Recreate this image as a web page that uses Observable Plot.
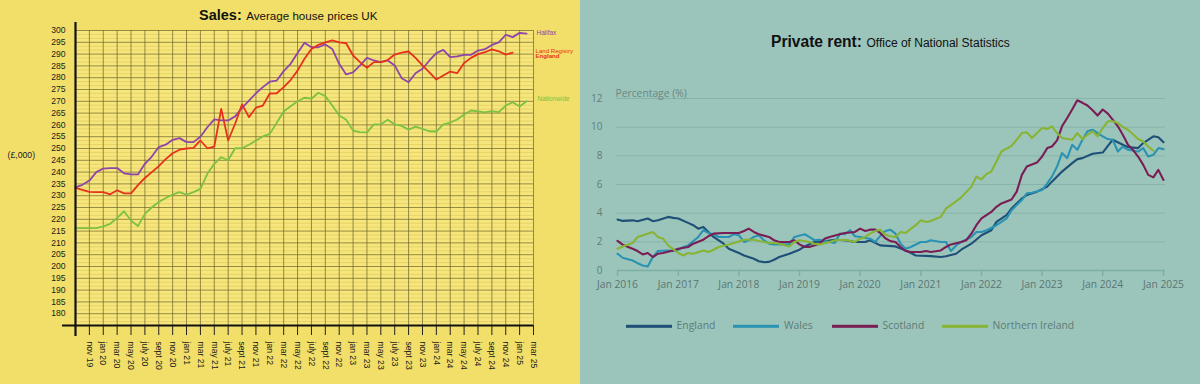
<!DOCTYPE html>
<html><head><meta charset="utf-8">
<script src="https://cdn.jsdelivr.net/npm/d3@7"></script>
<script src="https://cdn.jsdelivr.net/npm/@observablehq/plot@0.6"></script>
<style>
body{margin:0;width:1200px;height:384px;overflow:hidden;font-family:"Liberation Sans",Arial,sans-serif}
#wrap{display:flex;width:1200px;height:384px}
.panel{position:relative;height:384px;overflow:hidden}
#left{width:580px;background:#f2df69}
#right{width:620px;background:#9bc5bb}
.panel svg{position:absolute;left:0;top:0}
.t{position:absolute;white-space:nowrap;line-height:1;transform:translateY(-50%)}
.sw{display:inline-block;width:46px;height:3px;vertical-align:middle;margin-right:5px}
</style></head><body>
<div id="wrap"><div id="left" class="panel"></div><div id="right" class="panel"></div></div>
<script>
// ---------- LEFT: Sales, average house prices UK (£,000), monthly from Sep 2019 ----------
const salesTickLabels = ["nov 19","jan 20","mar 20","may 20","july 20","sept 20","nov 20","jan 21","mar 21","may 21","july 21","sept 21","nov 21","jan 22","mar 22","may 22","july 22","sept 22","nov 22","jan 23","mar 23","may 23","july 23","sept 23","nov 23","jan 24","mar 24","may 24","july 24","sept 24","nov 24","jan 25","mar 25"];
const salesYTicks = [180,185,190,195,200,205,210,215,220,225,230,235,240,245,250,255,260,265,270,275,280,285,290,295,300];
const salesSeries = ["Halifax","Land Registry","Nationwide"];
const halifax = [233.5,234.6,236.4,240,241.5,241.7,241.7,239.5,239,239,
  243.5,246.6,250.6,251.6,253.7,254.4,252.7,252.7,255,259,
  262.3,261.9,261.9,263.6,267.2,270.3,273.4,276,278.3,278.8,
  282.8,285.9,290.5,294.8,292.9,292.9,294.1,292.2,285.9,281.4,
  282.3,285.2,288.4,287.3,286.6,287.3,285.2,279.8,278.1,281.9,
  283.8,287.3,290.4,291.8,288.7,289,289.7,289.7,291.5,292.1,
  293.9,295,298.2,297.2,299,298.7];
const landRegistry = [233.3,232.5,231.6,231.5,231.5,230.6,232.3,231,231,234.5,
  237.5,240,242.5,245.5,248,249.5,250,250.3,253.4,250.1,
  250.8,266.8,253.4,260.5,268.7,263.3,267.3,268.2,273.3,273.4,
  276,279,283,288,292.2,293.9,295,295.8,295,294.6,
  289.4,286.6,284.2,286.6,286.6,287.5,289.8,290.6,291.1,288.4,
  285.2,282.3,279.2,280.9,282.6,281.9,286.2,288.4,290,290.8,
  292,291.2,289.8,290.6];
const nationwide = [216.3,216.3,216.3,216.3,217,218.1,220.6,223.4,219.5,217.1,
  222.3,225.1,227.3,229,230.5,231.5,230.4,231.5,232.9,239.3,
  243.5,246.3,245,250.1,250.1,251.6,253.4,255.1,256.2,260.9,
  265.7,267.9,270,271.5,271.1,273.6,272.2,268.2,264,262.2,
  257.6,256.9,256.8,260.2,260.3,262.2,260.2,259.6,258,259.3,
  258.3,257.3,257.2,260.2,261,262.3,264.4,266.1,265.7,265.3,
  265.8,265.4,268.2,269.6,267.8,270];
const salesColors = ["#8e45a9","#e6321b","#7cc142"];

// ---------- RIGHT: Private rent, annual % change ----------
const rentYears = [2016,2017,2018,2019,2020,2021,2022,2023,2024,2025];
const rentYTicks = [0,2,4,6,8,10,12];
const rentSeries = ["England","Wales","Scotland","Northern Ireland"];
const rentColors = ["#1f4e77","#2a93b3","#7a1d55","#88b433"];
const england = [["2016-01",3.56],["2016-02",3.46],["2016-04",3.5],["2016-05",3.44],["2016-07",3.63],["2016-08",3.44],["2016-09",3.5],["2016-11",3.74],["2016-12",3.67],["2017-01",3.63],["2017-03",3.32],["2017-04",3.16],["2017-05",2.92],["2017-06",3.04],["2017-07",2.69],["2017-08",2.34],["2017-10",1.87],["2017-11",1.52],["2018-01",1.22],["2018-02",1.05],["2018-04",0.82],["2018-05",0.65],["2018-06",0.58],["2018-07",0.6],["2018-08",0.75],["2018-09",0.94],["2018-11",1.17],["2019-01",1.45],["2019-02",1.68],["2019-04",1.99],["2019-06",2.04],["2019-08",2.15],["2019-10",2.11],["2019-12",1.99],["2020-02",1.99],["2020-03",2.11],["2020-05",1.75],["2020-08",1.68],["2020-10",1.4],["2020-12",1.05],["2021-03",1.0],["2021-05",0.94],["2021-06",1.0],["2021-08",1.17],["2021-09",1.45],["2021-11",1.87],["2022-01",2.46],["2022-03",2.81],["2022-04",3.39],["2022-06",3.86],["2022-07",4.33],["2022-09",5.03],["2022-10",5.26],["2022-12",5.5],["2023-02",5.85],["2023-03",6.2],["2023-05",6.9],["2023-07",7.49],["2023-08",7.77],["2023-09",7.84],["2023-11",8.14],["2024-01",8.23],["2024-02",8.7],["2024-03",9.12],["2024-05",8.77],["2024-06",8.61],["2024-08",8.54],["2024-09",8.89],["2024-11",9.36],["2024-12",9.29],["2025-01",8.94]];
const wales = [["2016-01",1.17],["2016-02",0.89],["2016-04",0.7],["2016-05",0.51],["2016-06",0.35],["2016-07",0.28],["2016-08",0.94],["2016-09",1.36],["2016-11",1.4],["2016-12",1.36],["2017-01",1.45],["2017-02",1.64],["2017-03",1.75],["2017-05",2.34],["2017-06",2.81],["2017-07",2.62],["2017-08",2.53],["2017-09",2.34],["2017-11",2.34],["2017-12",2.53],["2018-01",2.46],["2018-02",1.99],["2018-03",2.11],["2018-04",2.34],["2018-05",2.46],["2018-06",2.11],["2018-07",1.87],["2018-08",1.82],["2018-10",1.82],["2018-11",1.82],["2018-12",2.34],["2019-02",2.53],["2019-03",2.34],["2019-04",2.11],["2019-05",2.15],["2019-07",1.99],["2019-08",1.92],["2019-09",2.57],["2019-10",2.53],["2019-11",2.81],["2019-12",2.39],["2020-01",2.34],["2020-03",2.22],["2020-04",2.0],["2020-05",2.4],["2020-06",2.75],["2020-07",2.85],["2020-08",2.57],["2020-09",1.87],["2020-10",1.52],["2020-11",1.64],["2021-01",1.99],["2021-02",1.99],["2021-03",2.11],["2021-05",1.99],["2021-06",1.99],["2021-07",1.36],["2021-08",1.75],["2021-09",1.99],["2021-11",2.34],["2021-12",2.69],["2022-01",2.69],["2022-02",2.81],["2022-04",3.16],["2022-05",3.39],["2022-06",3.63],["2022-07",4.21],["2022-09",4.91],["2022-10",5.38],["2022-11",5.43],["2023-01",5.61],["2023-02",6.08],["2023-03",6.55],["2023-04",7.25],["2023-05",8.19],["2023-06",7.84],["2023-07",8.77],["2023-08",8.42],["2023-09",9.12],["2023-10",9.71],["2023-11",9.82],["2024-01",9.36],["2024-02",9.17],["2024-03",9.12],["2024-04",8.3],["2024-05",8.65],["2024-06",8.42],["2024-08",8.3],["2024-09",8.54],["2024-10",7.95],["2024-11",8.07],["2024-12",8.54],["2025-01",8.47]];
const scotland = [["2016-01",2.06],["2016-02",1.8],["2016-04",1.52],["2016-05",1.36],["2016-06",1.12],["2016-07",1.22],["2016-08",0.94],["2016-09",1.17],["2016-10",1.22],["2016-12",1.4],["2017-01",1.52],["2017-03",1.64],["2017-04",1.87],["2017-06",2.15],["2017-07",2.39],["2017-08",2.57],["2017-10",2.62],["2017-11",2.62],["2018-01",2.62],["2018-02",2.76],["2018-03",2.92],["2018-04",2.69],["2018-05",2.53],["2018-07",2.34],["2018-08",2.11],["2018-09",1.99],["2018-11",1.99],["2018-12",2.11],["2019-01",1.82],["2019-02",1.64],["2019-03",1.64],["2019-05",1.87],["2019-06",2.22],["2019-07",2.34],["2019-09",2.53],["2019-10",2.62],["2019-12",2.69],["2020-01",2.92],["2020-02",2.76],["2020-03",2.85],["2020-04",2.85],["2020-05",2.62],["2020-06",2.25],["2020-07",2.05],["2020-08",1.99],["2020-09",1.64],["2020-10",1.36],["2020-11",1.29],["2021-01",1.29],["2021-02",1.36],["2021-03",1.29],["2021-05",1.4],["2021-06",1.64],["2021-07",1.82],["2021-09",1.99],["2021-10",2.11],["2021-11",2.57],["2021-12",3.16],["2022-01",3.63],["2022-03",4.09],["2022-04",4.44],["2022-05",4.68],["2022-07",4.95],["2022-08",5.5],["2022-09",6.67],["2022-10",7.25],["2022-12",7.53],["2023-01",7.95],["2023-02",8.54],["2023-03",8.65],["2023-04",9.08],["2023-05",10.06],["2023-06",10.64],["2023-07",11.23],["2023-08",11.88],["2023-09",11.7],["2023-10",11.51],["2023-11",11.18],["2023-12",10.81],["2024-01",11.23],["2024-02",10.95],["2024-03",10.53],["2024-04",10.06],["2024-05",9.47],["2024-06",8.77],["2024-07",8.42],["2024-08",7.95],["2024-09",7.37],["2024-10",6.67],["2024-11",6.5],["2024-12",7.02],["2025-01",6.32]];
const northernIreland = [["2016-01",1.52],["2016-02",1.68],["2016-04",1.92],["2016-05",2.34],["2016-07",2.57],["2016-08",2.69],["2016-09",2.34],["2016-10",2.22],["2016-11",1.75],["2017-01",1.22],["2017-02",1.05],["2017-03",1.22],["2017-04",1.17],["2017-06",1.4],["2017-07",1.29],["2017-08",1.45],["2017-09",1.64],["2017-11",1.82],["2017-12",1.92],["2018-02",2.15],["2018-04",2.15],["2018-05",2.06],["2018-07",1.92],["2018-08",1.92],["2018-09",1.87],["2018-11",1.68],["2018-12",1.99],["2019-01",2.11],["2019-03",1.99],["2019-04",1.87],["2019-05",1.82],["2019-07",1.99],["2019-08",2.11],["2019-10",2.15],["2019-12",1.99],["2020-01",2.22],["2020-02",2.34],["2020-03",2.57],["2020-04",2.75],["2020-05",2.85],["2020-06",2.5],["2020-07",2.39],["2020-08",2.34],["2020-09",2.69],["2020-10",2.62],["2020-12",3.16],["2021-01",3.51],["2021-02",3.39],["2021-03",3.46],["2021-05",3.74],["2021-06",4.33],["2021-07",4.56],["2021-09",5.1],["2021-11",5.85],["2021-12",6.55],["2022-01",6.36],["2022-02",6.74],["2022-03",6.9],["2022-04",7.6],["2022-05",8.3],["2022-07",8.7],["2022-08",9.12],["2022-09",9.59],["2022-10",9.64],["2022-11",9.24],["2022-12",9.59],["2023-01",9.94],["2023-02",9.87],["2023-03",10.06],["2023-04",9.59],["2023-05",9.24],["2023-07",9.12],["2023-08",9.59],["2023-09",9.17],["2023-10",9.47],["2023-11",9.71],["2023-12",9.36],["2024-01",9.94],["2024-02",10.41],["2024-03",10.41],["2024-04",10.29],["2024-05",10.01],["2024-06",9.82],["2024-08",9.17],["2024-09",9.0],["2024-10",8.65],["2024-11",8.35]];

// ---------- build left ----------
const salesArrays = [halifax, landRegistry, nationwide];
const salesData = salesArrays.flatMap((arr, s) => arr.map((v, i) => ({series: salesSeries[s], m: i, v})));
const tickMonths = salesTickLabels.map((_, i) => 2 + 2 * i);   // nov 19 is 2 months after sep 19
const gridMonths = [0, ...tickMonths];
const faint = salesYTicks.flatMap(v => [v - 5/3, v - 10/3]);
const salesColor = Object.fromEntries(salesSeries.map((s, i) => [s, salesColors[i]]));
const FONT_L = "'Liberation Sans', Arial, sans-serif";

const leftPlot = Plot.plot({
  width: 580, height: 384,
  marginLeft: 75, marginRight: 47, marginTop: 30, marginBottom: 59,
  x: {domain: [0, 66], axis: null, label: null},
  y: {domain: [175, 300], axis: null, label: null},
  style: {background: "transparent", fontFamily: FONT_L, overflow: "visible"},
  marks: [
    Plot.frame({fill: "#f6e67c", stroke: null}),
    Plot.ruleY(faint, {stroke: "#c2ad3a", strokeOpacity: 0.3, strokeWidth: 1}),
    Plot.ruleY(salesYTicks, {stroke: "#6e6428", strokeOpacity: 0.7, strokeWidth: 1}),
    Plot.ruleX(gridMonths, {stroke: "#6e6428", strokeOpacity: 0.7, strokeWidth: 1}),
    Plot.line(salesData, {x: "m", y: "v", z: "series", stroke: d => salesColor[d.series], strokeWidth: 1.8, curve: "linear"}),
    Plot.axisY(salesYTicks, {tickSize: 0, tickPadding: 10, fontSize: 8.6, fill: "#1b1b1b", label: null}),
    Plot.ruleX(gridMonths, {y1: () => 175, y2: () => 175, insetBottom: -10, stroke: "#222", strokeWidth: 1}),
    Plot.text(tickMonths, {x: d => d, y: () => 175, text: (d, i) => salesTickLabels[i], rotate: 90, textAnchor: "start", lineAnchor: "middle", dy: 16, fontSize: 8.6, fill: "#1b1b1b"}),
    Plot.ruleX([0], {stroke: "#111", strokeWidth: 2.2, insetTop: -8, insetBottom: -11}),
    Plot.ruleY([175], {stroke: "#111", strokeWidth: 2.2, insetLeft: -13})
  ]
});
document.getElementById("left").appendChild(leftPlot);

// ---------- build right ----------
const parseM = d3.utcParse("%Y-%m");
const rentArrays = [england, wales, scotland, northernIreland];
const rentData = rentArrays.flatMap((arr, s) => arr.map(([d, v]) => ({series: rentSeries[s], date: parseM(d), v})));
const rentColor = Object.fromEntries(rentSeries.map((s, i) => [s, rentColors[i]]));
const yearDates = rentYears.map(y => new Date(Date.UTC(y, 0, 1)));
const FONT_R = "'Open Sans', 'Noto Sans', sans-serif";

const rightPlot = Plot.plot({
  width: 620, height: 384,
  marginLeft: 37, marginRight: 37, marginTop: 98, marginBottom: 114,
  x: {type: "utc", domain: [yearDates[0], yearDates[yearDates.length - 1]], axis: null, label: null},
  y: {domain: [0, 12], axis: null, label: null},
  style: {background: "transparent", fontFamily: FONT_R, overflow: "visible"},
  marks: [
    Plot.ruleY(rentYTicks.slice(1), {stroke: "#86b3a9", strokeWidth: 1, insetLeft: -1, insetRight: -2}),
    Plot.ruleY([0], {stroke: "#7eada3", strokeWidth: 1.6, insetRight: -2}),
    Plot.axisX(yearDates, {tickSize: 6, tickPadding: 4, fontSize: 10.3, fill: "#5b7673", stroke: "#7eada3", strokeWidth: 1.4, tickFormat: d3.utcFormat("Jan %Y"), label: null}),
    Plot.axisY(rentYTicks, {tickSize: 0, tickPadding: 15, fontSize: 10, fill: "#627c78", label: null}),
    Plot.line(rentData, {x: "date", y: "v", z: "series", stroke: d => rentColor[d.series], strokeWidth: 2.1})
  ]
});
document.getElementById("right").appendChild(rightPlot);

// ---------- texts ----------
function addText(parent, html, left, cy, style) {
  const el = document.createElement("div");
  el.className = "t";
  el.innerHTML = html;
  el.style.left = left + "px";
  el.style.top = cy + "px";
  Object.assign(el.style, style);
  document.getElementById(parent).appendChild(el);
}
addText("left", "<b style='font-size:14.5px'>Sales:</b> <span style='font-size:11.6px'>Average house prices UK</span>", 199, 15, {color: "#111", fontFamily: FONT_L});
addText("left", "(£,000)", 7.5, 155, {fontSize: "8.7px", color: "#222", fontFamily: FONT_L});
addText("left", salesSeries[0], 536.5, 32.5, {fontSize: "6.5px", color: salesColors[0], fontFamily: FONT_L});
addText("left", salesSeries[1], 535.5, 50.5, {fontSize: "6.1px", color: salesColors[1], fontFamily: FONT_L});
addText("left", "England", 535.5, 56, {fontSize: "6.1px", fontWeight: "bold", color: salesColors[1], fontFamily: FONT_L});
addText("left", salesSeries[2], 537.5, 98.5, {fontSize: "6.5px", color: salesColors[2], fontFamily: FONT_L});

addText("right", "<b style='font-size:15.6px'>Private rent:</b> <span style='font-size:12px'>Office of National Statistics</span>", 191, 42, {color: "#111", fontFamily: FONT_L});
addText("right", "Percentage (%)", 35.5, 92.5, {fontSize: "10.3px", color: "#6a8783", fontFamily: FONT_R});
const legendX = [45.5, 153, 251.5, 361.5];
rentSeries.forEach((s, i) => {
  addText("right", `<span class="sw" style="background:${rentColors[i]}"></span>${s}`, legendX[i], 325, {fontSize: "10.4px", color: "#5f7b77", fontFamily: FONT_R});
});
</script></body></html>
